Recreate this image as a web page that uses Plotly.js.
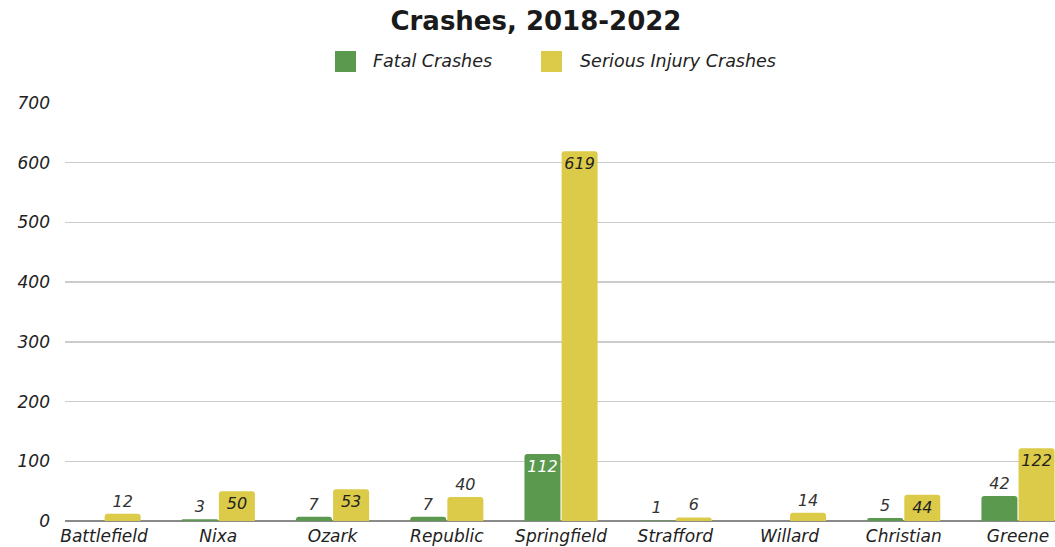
<!DOCTYPE html>
<html>
<head>
<meta charset="utf-8">
<script src="https://cdn.plot.ly/plotly-3.0.1.min.js"></script>
<style>html,body{margin:0;padding:0;background:#fff;}#chart{width:1055px;height:547px;}</style>
</head>
<body>
<div id="chart"></div>
<script>
const categories = ["Battlefield","Nixa","Ozark","Republic","Springfield","Strafford","Willard","Christian","Greene"];
const fatalCrashes = [null,3,7,7,112,1,null,5,42];
const seriousInjuryCrashes = [12,50,53,40,619,6,14,44,122];
const yTicks = [0,100,200,300,400,500,600,700];
const seriesNames = ["Fatal Crashes","Serious Injury Crashes"];

const fatalPos = ["outside","outside","outside","outside","inside","outside","outside","outside","outside"];
const seriousPos = ["outside","inside","inside","outside","inside","outside","outside","inside","inside"];

const FONT = "DejaVu Sans, sans-serif";
const GREEN = "#5b9a4e", YELLOW = "#dccb49";
const traces = [
  {type:"bar", name:seriesNames[0], x:categories, y:fatalCrashes,
   marker:{color:GREEN, cornerradius:3},
   texttemplate:"%{y}", textposition:fatalPos, insidetextanchor:"end", textangle:0, constraintext:"none",
   insidetextfont:{color:"#ffffff", size:16, family:FONT, style:"italic"},
   outsidetextfont:{color:"#333333", size:16, family:FONT, style:"italic"},
   cliponaxis:false, showlegend:false},
  {type:"bar", name:seriesNames[1], x:categories, y:seriousInjuryCrashes,
   marker:{color:YELLOW, cornerradius:3},
   texttemplate:"%{y}", textposition:seriousPos, insidetextanchor:"end", textangle:0, constraintext:"none",
   insidetextfont:{color:"#222222", size:16, family:FONT, style:"italic"},
   outsidetextfont:{color:"#333333", size:16, family:FONT, style:"italic"},
   cliponaxis:false, showlegend:false}
];

const legFont = {size:17.5, family:FONT, style:"italic", color:"#222"};
const layout = {
  width:1055, height:547,
  margin:{l:65, r:0, t:103, b:26, pad:0},
  paper_bgcolor:"#ffffff", plot_bgcolor:"#ffffff",
  font:{family:FONT, color:"#222222"},
  title:{text:"<b>Crashes, 2018-2022</b>", x:0.508, xanchor:"center", y:0.962, yanchor:"middle",
         font:{family:"DejaVu Sans, sans-serif", size:26, color:"#1a1a1a", weight:700}},
  barmode:"group", bargap:0.35, bargroupgap:0.03,
  showlegend:false,
  shapes:[
    {type:"rect", xref:"paper", yref:"paper", x0:(335-65)/990, x1:(356-65)/990, y0:1+(103-72)/418, y1:1+(103-51)/418,
     fillcolor:GREEN, line:{width:0}},
    {type:"rect", xref:"paper", yref:"paper", x0:(541-65)/990, x1:(562-65)/990, y0:1+(103-72)/418, y1:1+(103-51)/418,
     fillcolor:YELLOW, line:{width:0}}
  ],
  annotations:[
    {xref:"paper", yref:"paper", x:(371-65)/990, y:1+(103-61)/418, xanchor:"left", yanchor:"middle",
     text:seriesNames[0], showarrow:false, font:legFont},
    {xref:"paper", yref:"paper", x:(578-65)/990, y:1+(103-61)/418, xanchor:"left", yanchor:"middle",
     text:seriesNames[1], showarrow:false, font:legFont}
  ],
  xaxis:{type:"category", range:[-0.342, 8.324], showgrid:false, zeroline:false, showline:false,
         ticks:"", ticklabelstandoff:3, tickfont:{size:17, family:FONT, style:"italic", color:"#222"}, fixedrange:true},
  yaxis:{range:[0,700], tickvals:yTicks, showgrid:true, gridcolor:"#cccccc", gridwidth:1.5,
         zeroline:true, zerolinecolor:"#8a8a8a", zerolinewidth:2, showline:false, ticks:"",
         ticklabelstandoff:14,
         tickfont:{size:17, family:FONT, style:"italic", color:"#222"}, fixedrange:true}
};

Plotly.newPlot("chart", traces, layout, {displayModeBar:false, staticPlot:true});
</script>
</body>
</html>
